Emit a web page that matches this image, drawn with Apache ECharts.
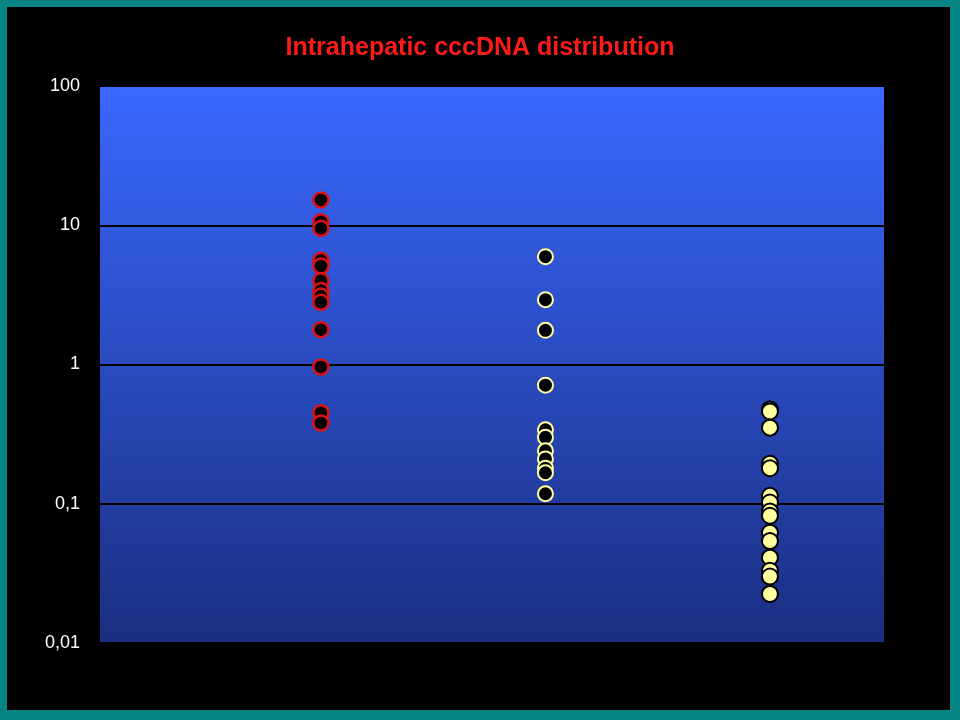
<!DOCTYPE html>
<html>
<head>
<meta charset="utf-8">
<script src="https://cdn.jsdelivr.net/npm/echarts@6/dist/echarts.min.js"></script>
<style>
html,body{margin:0;padding:0;background:#000;}
#c{width:960px;height:720px;}
</style>
</head>
<body>
<div id="c"></div>
<script>
var title = 'Intrahepatic cccDNA distribution';
var groupPositions = [1, 2, 3];
var group1 = [15.2, 10.6, 9.5, 5.6, 5.1, 4.0, 3.4, 3.1, 2.8, 1.78, 0.96, 0.45, 0.38];
var group2 = [5.95, 2.92, 1.76, 0.71, 0.34, 0.30, 0.24, 0.21, 0.18, 0.167, 0.118];
var group3 = [0.476, 0.46, 0.352, 0.194, 0.18, 0.114, 0.102, 0.088, 0.082, 0.062, 0.054, 0.041, 0.033, 0.030, 0.0225];
var yTickLabels = {'0.01': '0,01', '0.1': '0,1', '1': '1', '10': '10', '100': '100'};

function pts(x, arr) { return arr.map(function (v) { return [x, v]; }); }

var chart = echarts.init(document.getElementById('c'));
chart.setOption({
  backgroundColor: '#000000',
  animation: false,
  title: {
    text: title,
    left: 'center',
    top: 31,
    textStyle: { color: '#FF1A1A', fontSize: 25, fontWeight: 'bold', fontFamily: 'Liberation Sans, Arial, sans-serif' }
  },
  graphic: [
    { type: 'rect', shape: { x: 0, y: 0, width: 960, height: 7 }, style: { fill: '#078585' }, silent: true },
    { type: 'rect', shape: { x: 0, y: 0, width: 7, height: 720 }, style: { fill: '#078585' }, silent: true },
    { type: 'rect', shape: { x: 950, y: 0, width: 10, height: 720 }, style: { fill: '#078585' }, silent: true },
    { type: 'rect', shape: { x: 0, y: 710, width: 960, height: 10 }, style: { fill: '#078585' }, silent: true }
  ],
  grid: {
    left: 100, top: 86, width: 784, height: 557,
    show: true, borderWidth: 0,
    backgroundColor: {
      type: 'linear', x: 0, y: 0, x2: 0, y2: 1,
      colorStops: [{ offset: 0, color: '#3A68FF' }, { offset: 1, color: '#1A2E80' }]
    }
  },
  xAxis: {
    type: 'value', min: 0.016, max: 3.508,
    show: false, splitLine: { show: false }
  },
  yAxis: {
    type: 'log', logBase: 10, min: 0.01, max: 100,
    axisLine: { show: false }, axisTick: { show: false },
    axisLabel: {
      color: '#FFFFFF', fontSize: 18, margin: 20,
      fontFamily: 'Liberation Sans, Arial, sans-serif',
      formatter: function (v) {
        var k = String(+v.toPrecision(3));
        return yTickLabels[k] !== undefined ? yTickLabels[k] : k;
      }
    },
    splitLine: { show: true, lineStyle: { color: '#000000', width: 2 } }
  },
  series: [
    {
      type: 'scatter', data: pts(groupPositions[0], group1), symbolSize: 15,
      itemStyle: { color: '#000000', borderColor: '#E01010', borderWidth: 2.5, opacity: 1 }
    },
    {
      type: 'scatter', data: pts(groupPositions[1], group2), symbolSize: 15,
      itemStyle: { color: '#000000', borderColor: '#FFFFA0', borderWidth: 2, opacity: 1 }
    },
    {
      type: 'scatter', data: pts(groupPositions[2], group3), symbolSize: 16,
      itemStyle: { color: '#FFFFA0', borderColor: '#000000', borderWidth: 2, opacity: 1 }
    }
  ]
});
</script>
</body>
</html>
